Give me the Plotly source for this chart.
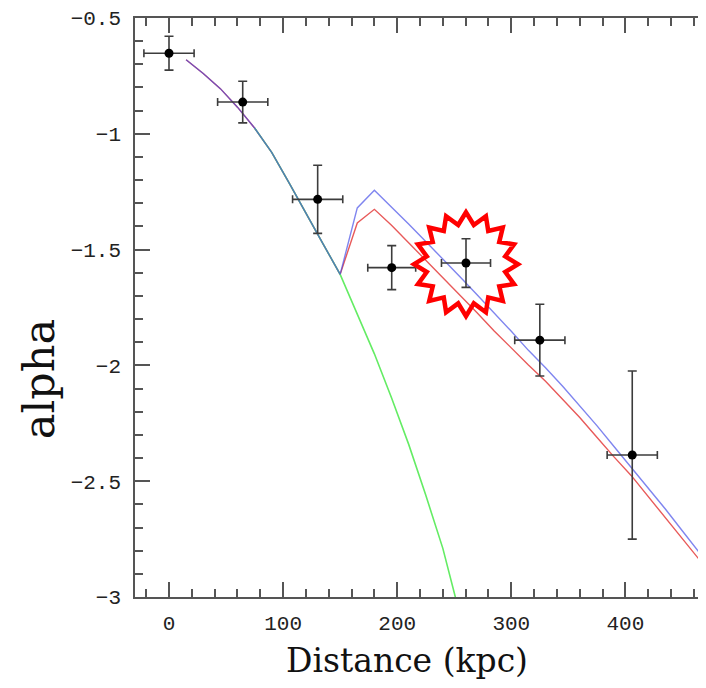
import numpy as np
import plotly.graph_objects as go

# ---- data ----
obs_x = [0, 64.6, 130.3, 195.2, 260.3, 325, 406]
obs_y = [-0.652, -0.863, -1.283, -1.578, -1.558, -1.891, -2.387]
obs_xerr = [22, 22, 22, 21, 21.5, 22, 22]
obs_yerr = [0.073, 0.09, 0.147, 0.095, 0.105, 0.155, 0.363]

model_x_inner = [15, 30, 45, 60, 75, 90, 105, 120, 135, 150]
model_y_inner = [-0.68, -0.74, -0.805, -0.885, -0.975, -1.08, -1.21, -1.34, -1.475, -1.607]

outer_x = [165, 180, 195, 210, 225, 240, 255, 270, 285, 300, 315, 330, 345,
           360, 375, 390, 405, 420, 435, 450, 465, 480]
blue_y_outer = [-1.32, -1.244, -1.315, -1.39, -1.465, -1.54, -1.617, -1.695, -1.773,
                -1.853, -1.935, -2.01, -2.09, -2.175, -2.26, -2.35, -2.44, -2.53,
                -2.62, -2.715, -2.81, -2.905]
red_y_outer = [-1.385, -1.326, -1.395, -1.47, -1.545, -1.62, -1.695, -1.773, -1.851,
               -1.925, -1.998, -2.068, -2.145, -2.225, -2.31, -2.395, -2.475, -2.565,
               -2.655, -2.745, -2.84, -2.935]

green_x = [75, 90, 105, 120, 135, 150, 165, 180, 195, 210, 225, 240, 252]
green_y = [-0.975, -1.08, -1.21, -1.34, -1.475, -1.607, -1.775, -1.95, -2.14,
           -2.34, -2.56, -2.79, -3.02]

x_ticks = [0, 100, 200, 300, 400]
y_ticks = [-3, -2.5, -2, -1.5, -1, -0.5]
y_ticktext = ["\u22123", "\u22122.5", "\u22122", "\u22121.5", "\u22121", "\u22120.5"]

highlight_x, highlight_y = 260.3, -1.563

# ---- layout geometry (page body margin of 8px is compensated) ----
OFF = 8
W, H = 706 - 2 * OFF, 688 - 2 * OFF
ML, MT = 135 - OFF, 17.5 - OFF
MR = 0
MB = H - (597 - OFF)
PX_PER_UNIT = 1.141          # horizontal scale of the reference
X0_PX = 169                  # screen position of x = 0
XR = [(135 - X0_PX) / PX_PER_UNIT, (OFF + W - X0_PX) / PX_PER_UNIT]
YR = [-3, -0.5]

fig = go.Figure()

fig.add_trace(go.Scatter(x=model_x_inner + outer_x, y=model_y_inner + red_y_outer,
                         mode="lines", line=dict(color="rgb(232,90,90)", width=1.4),
                         hoverinfo="skip"))
fig.add_trace(go.Scatter(x=green_x, y=green_y, mode="lines",
                         line=dict(color="rgb(100,236,100)", width=1.6), hoverinfo="skip"))
fig.add_trace(go.Scatter(x=model_x_inner + outer_x, y=model_y_inner + blue_y_outer,
                         mode="lines", line=dict(color="rgba(60,70,230,0.66)", width=1.4),
                         hoverinfo="skip"))

fig.add_trace(go.Scatter(
    x=obs_x, y=obs_y, mode="markers",
    marker=dict(color="black", size=9),
    error_x=dict(type="data", array=obs_xerr, color="#3c3c3c", thickness=1.6, width=4),
    error_y=dict(type="data", array=obs_yerr, color="#3c3c3c", thickness=1.6, width=4.5),
))

# starburst highlight
pw = W - ML - MR
ph = H - MT - MB
sx = pw / (XR[1] - XR[0])
sy = ph / (YR[1] - YR[0])
n_spikes = 16
r_out, r_in = 52, 40
ang = np.linspace(0, 2 * np.pi, 2 * n_spikes, endpoint=False) + np.pi / 2
rad = np.where(np.arange(2 * n_spikes) % 2 == 0, r_out, r_in)
px = highlight_x + rad * np.cos(ang) / sx
py = highlight_y + rad * np.sin(ang) / sy
path = "M " + " L ".join(f"{a:.3f},{b:.4f}" for a, b in zip(px, py)) + " Z"
fig.add_shape(type="path", path=path, xref="x", yref="y",
              line=dict(color="#ff0000", width=4.5), fillcolor="rgba(0,0,0,0)",
              layer="above")

axis_common = dict(
    showgrid=False, zeroline=False, showline=True, linecolor="#555555", linewidth=1.5,
    ticks="inside", ticklen=15, tickwidth=1.5, tickcolor="#555555", automargin=False,
    tickfont=dict(family="Liberation Mono", size=21, color="#222222"),
)

fig.update_xaxes(range=XR, tickvals=x_ticks, mirror="ticks",
                 minor=dict(dtick=20, tick0=0, ticklen=8, tickwidth=1.5,
                            tickcolor="#555555", ticks="inside"),
                 ticklabelstandoff=6,
                 **axis_common)
fig.update_yaxes(range=YR, tickvals=y_ticks, ticktext=y_ticktext, mirror=False,
                 minor=dict(dtick=0.1, tick0=0, ticklen=8, tickwidth=1.5,
                            tickcolor="#555555", ticks="inside"),
                 ticklabelstandoff=8,
                 **axis_common)

fig.add_annotation(text="Distance (kpc)", xref="paper", yref="paper",
                   x=(407 - OFF - ML) / pw, y=-(661 - OFF - (H - MB)) / ph,
                   showarrow=False, xanchor="center", yanchor="middle",
                   font=dict(family="DejaVu Serif", size=33, color="#111111"))
fig.add_annotation(text="alpha", xref="paper", yref="paper",
                   x=-(ML - (39 - OFF)) / pw, y=(H - MB - (379 - OFF)) / ph, textangle=-90,
                   showarrow=False, xanchor="center", yanchor="middle",
                   font=dict(family="DejaVu Serif", size=43, color="#111111"))

fig.update_layout(width=W, height=H, margin=dict(l=ML, r=MR, t=MT, b=MB),
                  plot_bgcolor="white", paper_bgcolor="white", showlegend=False)

fig.write_html("out.html")
